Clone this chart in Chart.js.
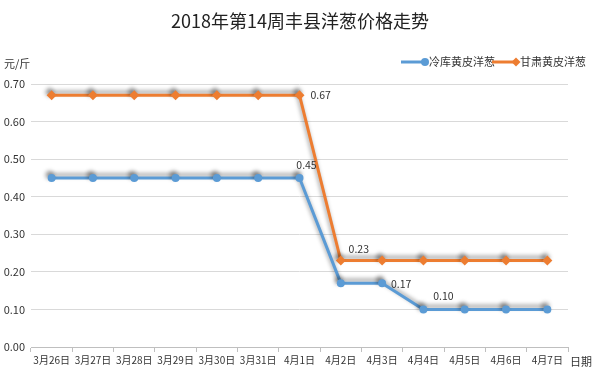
<!DOCTYPE html>
<html>
<head>
<meta charset="utf-8">
<style>
  html, body { margin: 0; padding: 0; background: #fff; }
  #wrap { width: 600px; height: 386px; position: relative; }
</style>
<script src="https://cdn.jsdelivr.net/npm/chart.js@4/dist/chart.umd.min.js"></script>
</head>
<body>
<div id="wrap"><canvas id="c" width="600" height="386"></canvas></div>
<script>
const dates = ['3月26日', '3月27日', '3月28日', '3月29日', '3月30日', '3月31日', '4月1日', '4月2日', '4月3日', '4月4日', '4月5日', '4月6日', '4月7日'];
const coldStore = [0.45, 0.45, 0.45, 0.45, 0.45, 0.45, 0.45, 0.17, 0.17, 0.10, 0.10, 0.10, 0.10];
const gansu = [0.67, 0.67, 0.67, 0.67, 0.67, 0.67, 0.67, 0.23, 0.23, 0.23, 0.23, 0.23, 0.23];
const yTicks = [0, 0.1, 0.2, 0.3, 0.4, 0.5, 0.6, 0.7];

const FONT = '"Noto Sans CJK SC", "Noto Sans", sans-serif';
const TXT = '#333';

// which points get a value label, and where it sits relative to the point
const valueLabels = [
  { ds: 1, i: 6, dx: 11, dy: 0, align: 'left' },
  { ds: 0, i: 6, dx: 7, dy: -13, align: 'center' },
  { ds: 1, i: 7, dx: 18, dy: -12, align: 'center' },
  { ds: 0, i: 8, dx: 19, dy: 1, align: 'center' },
  { ds: 0, i: 9, dx: 20, dy: -13, align: 'center' }
];

const shadowPlugin = {
  id: 'lineShadow',
  beforeDatasetDraw(chart) {
    const ctx = chart.ctx;
    ctx.save();
    ctx.shadowColor = 'rgba(0,0,0,0.4)';
    ctx.shadowBlur = 4;
    ctx.shadowOffsetX = -2;
    ctx.shadowOffsetY = -3;
  },
  afterDatasetDraw(chart) {
    chart.ctx.restore();
  }
};

const textPlugin = {
  id: 'extraText',
  afterDraw(chart) {
    const ctx = chart.ctx;
    ctx.save();
    // title
    ctx.fillStyle = '#222';
    ctx.font = '18px ' + FONT;
    ctx.textAlign = 'center';
    ctx.textBaseline = 'middle';
    ctx.fillText('2018年第14周丰县洋葱价格走势', 300, 21);

    // axis units
    ctx.fillStyle = TXT;
    ctx.font = '11px ' + FONT;
    ctx.textAlign = 'left';
    ctx.fillText('元/斤', 4, 64);
    ctx.fillText('日期', 570, 362);

    // legend
    const legendX = [401, 492];
    chart.data.datasets.forEach((ds, k) => {
      const x = legendX[k], y = 62;
      ctx.strokeStyle = ds.borderColor;
      ctx.lineWidth = 3;
      ctx.beginPath();
      ctx.moveTo(x, y);
      ctx.lineTo(x + 26, y);
      ctx.stroke();
      ctx.fillStyle = ds.borderColor;
      ctx.beginPath();
      if (ds.pointStyle === 'rectRot') {
        ctx.moveTo(x + 24, y - 4.5); ctx.lineTo(x + 28.5, y);
        ctx.lineTo(x + 24, y + 4.5); ctx.lineTo(x + 19.5, y);
        ctx.closePath();
      } else {
        ctx.arc(x + 24, y, 4, 0, Math.PI * 2);
      }
      ctx.fill();
      ctx.fillStyle = TXT;
      ctx.font = '11px ' + FONT;
      ctx.fillText(ds.label, x + 28, y);
    });

    // value labels
    ctx.font = '10.5px ' + FONT;
    ctx.fillStyle = TXT;
    valueLabels.forEach((v) => {
      const pt = chart.getDatasetMeta(v.ds).data[v.i];
      const val = chart.data.datasets[v.ds].data[v.i];
      ctx.textAlign = v.align;
      ctx.fillText(val.toFixed(2), pt.x + v.dx, pt.y + v.dy);
    });
    ctx.restore();
  }
};

new Chart(document.getElementById('c'), {
  type: 'line',
  data: {
    labels: dates,
    datasets: [
      {
        label: '冷库黄皮洋葱',
        data: coldStore,
        borderColor: '#5B9BD5',
        backgroundColor: '#5B9BD5',
        borderWidth: 3,
        pointStyle: 'circle',
        pointRadius: 4,
        pointBorderWidth: 0,
        tension: 0
      },
      {
        label: '甘肃黄皮洋葱',
        data: gansu,
        borderColor: '#ED7D31',
        backgroundColor: '#ED7D31',
        borderWidth: 3,
        pointStyle: 'rectRot',
        pointRadius: 5,
        pointBorderWidth: 0,
        tension: 0
      }
    ]
  },
  options: {
    responsive: false,
    animation: false,
    devicePixelRatio: 1,
    layout: { padding: { top: 84, right: 32, left: 0, bottom: 0 } },
    plugins: {
      legend: { display: false },
      title: { display: false },
      tooltip: { enabled: false }
    },
    scales: {
      x: {
        offset: true,
        grid: { display: true, drawOnChartArea: false, offset: true, tickLength: 5, color: '#bfbfbf' },
        border: { color: '#bfbfbf' },
        ticks: { color: TXT, font: { family: FONT, size: 10 }, padding: 2, maxRotation: 0, autoSkip: false },
        afterFit(scale) { scale.height = 39; }
      },
      y: {
        min: 0,
        max: 0.7,
        afterBuildTicks(scale) { scale.ticks = yTicks.map((v) => ({ value: v })); },
        grid: { color: '#d9d9d9', drawTicks: false },
        border: { display: false },
        ticks: {
          color: TXT,
          font: { family: FONT, size: 11 },
          padding: 6,
          callback: (v) => Number(v).toFixed(2)
        },
        afterFit(scale) { scale.width = 31; }
      }
    }
  },
  plugins: [shadowPlugin, textPlugin]
});
</script>
</body>
</html>
